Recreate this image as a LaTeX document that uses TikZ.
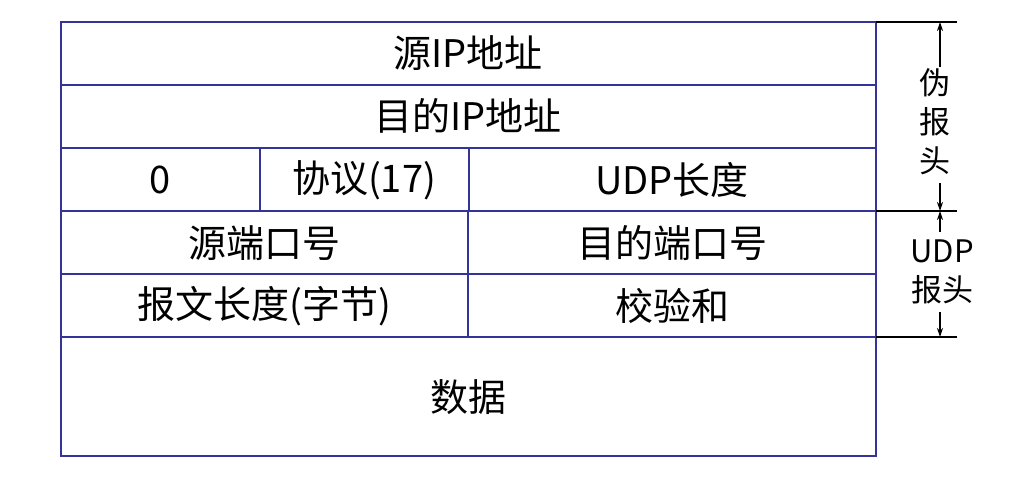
\documentclass[tikz,border=0pt]{standalone}
\usepackage{fontspec}
\setmainfont{Noto Sans CJK SC}
\usetikzlibrary{arrows.meta, positioning}

\begin{document}
\begin{tikzpicture}[
        x=1pt, y=-1pt, >={Stealth[length=9pt,width=6pt]},
        cell/.style={draw=none, font=\fontsize{38}{42}\selectfont},
        side/.style={font=\fontsize{31}{39}\selectfont, align=center, inner sep=8pt},
        grid/.style={draw={rgb,255:red,51;green,51;blue,153}, line width=2pt},
        ]
        \useasboundingbox (0,0) rectangle (1009,485);
        % table
        \draw[grid] (61,22) rectangle (876,456);
        \foreach \y in {85,148,211,274,337} \draw[grid] (61,\y) -- (876,\y);
        \draw[grid] (260,148) -- (260,211);
        \draw[grid] (469,148) -- (469,211);
        \draw[grid] (468,211) -- (468,337);

        \node[cell] (srcip)   at (468,53)  {源IP地址};
        \node[cell] (dstip)   at (468,116) {目的IP地址};
        \node[cell] (zero)    at (160,180) {0};
        \node[cell] (proto)   at (364,180) {协议(17)};
        \node[cell] (udplen)  at (672,180) {UDP长度};
        \node[cell] (srcport) at (264,243) {源端口号};
        \node[cell] (dstport) at (672,243) {目的端口号};
        \node[cell] (msglen)  at (264,306) {报文长度(字节)};
        \node[cell] (chksum)  at (672,306) {校验和};
        \node[cell] (data)    at (468,397) {数据};

        % right side
        \coordinate (t0) at (940,22);
        \coordinate (t1) at (940,211);
        \coordinate (t2) at (940,337);
        \draw[line width=1.5pt] (876,22) -- (957,22);
        \draw[line width=1.5pt] (876,211) -- (957,211);
        \draw[line width=1.5pt] (876,337) -- (957,337);

        \node[side] (pseudo) at (935,122) {伪\\报\\头};
        \node[side] (udphdr) at (942,272) {UDP\\报头};
        \draw[->, line width=1.2pt, shorten <=-6pt] (t0 |- pseudo.north) -- (t0);
        \draw[->, line width=1.2pt] (t1 |- pseudo.south) -- (t1);
        \draw[->, line width=1.2pt] (t1 |- udphdr.north) -- (t1);
        \draw[->, line width=1.2pt] (t2 |- udphdr.south) -- (t2);
\end{tikzpicture}
\end{document}
